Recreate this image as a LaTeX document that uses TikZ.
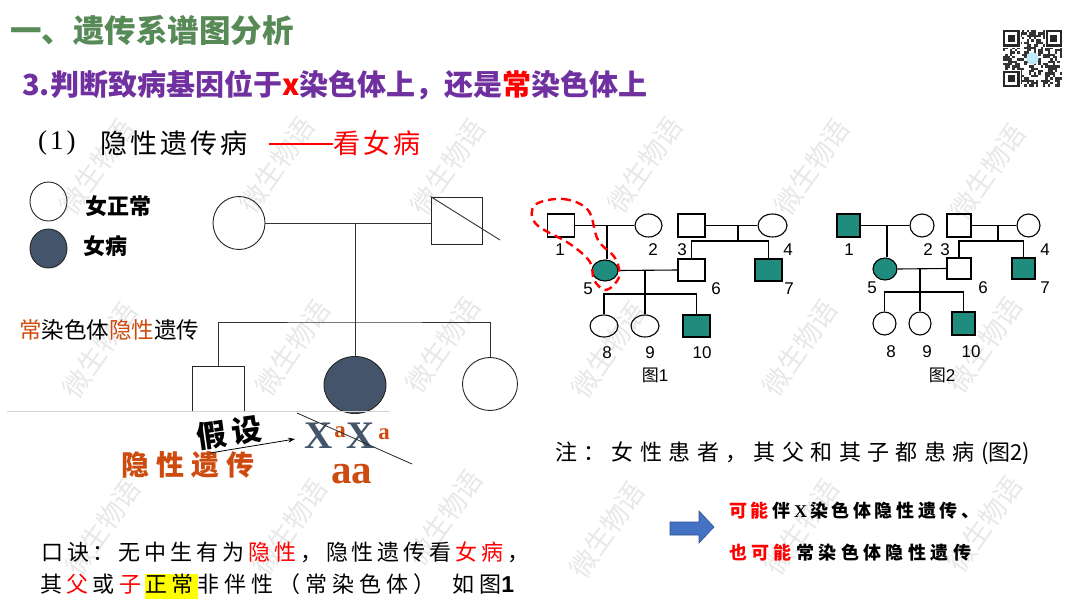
\documentclass[tikz,border=0pt]{standalone}
\usepackage{fontspec}
\setmainfont{Noto Sans CJK SC}
\newfontfamily\lat{Liberation Sans}
\newfontfamily\tnr{Liberation Serif}
\usetikzlibrary{arrows.meta,shapes.geometric}
\definecolor{titlegreen}{RGB}{88,138,88}
\definecolor{ppurple}{RGB}{112,48,160}
\definecolor{pred}{RGB}{255,0,0}
\definecolor{porange}{RGB}{205,75,15}
\definecolor{slate}{RGB}{68,84,106}
\definecolor{teal}{RGB}{31,140,125}
\definecolor{ablue}{RGB}{68,114,196}
\definecolor{ablueb}{RGB}{47,82,143}
\definecolor{hiyellow}{RGB}{255,255,0}
\definecolor{wmgray}{RGB}{232,232,232}
\newcommand\fs[1]{\fontsize{#1}{#1}\selectfont}
\makeatletter
\newcommand\LS[2]{\@tfor\lsc:=#2\do{\lsc\kern#1pt}}
\makeatother
\begin{document}
\begin{tikzpicture}[x=1pt,y=-1pt,
  txt/.style={inner sep=0pt, anchor=west},
  wm/.style={text=wmgray, rotate=55, inner sep=0pt, font=\fs{27}},
  bigsq/.style={draw=black!85, line width=0.9pt, inner sep=0pt},
  bigci/.style={draw=black!85, line width=0.9pt, ellipse, inner sep=0pt},
  pl/.style={draw=black!80, line width=0.9pt},
  fsq/.style={draw, line width=1.1pt, rectangle, inner sep=0pt},
  fci/.style={draw, line width=1.1pt, ellipse, inner sep=0pt},
  aff/.style={fill=teal},
  fl/.style={line width=1.1pt},
  lab/.style={inner sep=0pt, font=\lat\fs{17}},
]
\useasboundingbox (0,0) rectangle (1080,608);
\fill[white] (0,0) rectangle (1080,608);

% watermarks
\foreach \x/\y [count=\k] in {97/167,277/165,448/167,645/165,812/167,988/172,
                   100/350,293/348,443/345,609/350,800/348,985/345,
                   103/527,290/527,445/518,607/530,802/527,985/524}{
  \node[wm] (wm\k) at (\x,\y) {微生物语};
}

% title lines
\node[txt, text=titlegreen, font=\fs{31.5}\bfseries] (title) at (10,30) {一、遗传系谱图分析};
\node[txt, text=ppurple, font=\fs{29}\bfseries] (sub) at (22,85) {3.判断致病基因位于{\color{pred}x}染色体上，还是{\color{pred}常}染色体上};
\node[txt, font=\tnr\fs{27}] (head1a) at (38,143) {\LS{3}{(1)}};
\node[txt, font=\fs{27}] (head1b) at (100,143) {\LS{3}{隐性遗传病}};
\coordinate (dashA) at (269,144);
\coordinate (dashB) at (333,144);
\draw[pred, line width=2pt] (dashA) -- (dashB);
\node[txt, font=\fs{27}, text=pred] (head1c) at (333,143) {\LS{3}{看女病}};

% QR code
\begin{scope}[shift={(1003,30)}]
  \pgfmathsetseed{11}
  \fill[white] (0,0) rectangle (59,57);
  \foreach \i in {0,...,24}{
    \foreach \j in {0,...,23}{
      \pgfmathtruncatemacro\on{(rnd<0.5)}
      \ifnum\on=1 \fill[black!80] (\i*2.36,\j*2.36) rectangle ++(2.36,2.36);\fi
    }
  }
  \foreach \px/\py in {0/0,42.5/0,0/40.5}{
    \fill[white] (\px-1,\py-1) rectangle ++(18.5,18.5);
    \fill[black!85] (\px,\py) rectangle ++(16.5,16.5);
    \fill[white] (\px+2.36,\py+2.36) rectangle ++(11.8,11.8);
    \fill[black!85] (\px+4.72,\py+4.72) rectangle ++(7.1,7.1);
  }
  \fill[cyan!25] (29.5,28.5) circle (6);
\end{scope}

% legend
\node[bigci, minimum width=37pt, minimum height=39pt] (L1) at (48.5,201.5) {};
\node[bigci, fill=slate, minimum width=37pt, minimum height=39pt] (L2) at (48.5,248.5) {};
\node[txt, font=\fs{22}\bfseries] (L1t) at (85,206) {女正常};
\node[txt, font=\fs{22}\bfseries] (L2t) at (83,246) {女病};

% big pedigree
\node[bigci, minimum width=52pt, minimum height=53pt] (P1) at (239,223) {};
\node[bigsq, minimum width=51pt, minimum height=47pt] (P2) at (456.5,220.5) {};
\coordinate (P2x) at (500,240);
\draw[pl] (P2.north west) -- (P2x);
\draw[pl] (P1.east) -- (P1.east -| P2.west);
\coordinate (Pm) at (355,223);
\coordinate (Ps) at (355,322);
\node[bigsq, minimum width=52pt, minimum height=45pt] (C1) at (218,389) {};
\node[bigci, fill=slate, minimum width=62pt, minimum height=57pt] (C2) at (355,385) {};
\node[bigci, minimum width=55pt, minimum height=53pt] (C3) at (490,384) {};
\draw[pl] (Pm) -- (C2.north);
\draw[pl] (C1.north) |- (Ps) -| (C3.north);

% gray separator
\coordinate (g1) at (7,411);
\coordinate (g2) at (390,411);
\draw[black!18, line width=0.8pt] (g1) -- (g2);

\node[txt, font=\fs{22.5}] (auto) at (19,330) {{\color{porange}常}染色体{\color{porange}隐性}遗传};

% hypothesis
\node[inner sep=0pt, rotate=8, font=\fs{30}\bfseries] (jiashe) at (229,433) {假\kern5pt 设};
\node[txt, text=porange, font=\fs{28}\bfseries] (yxyc) at (121,465) {\LS{7}{隐性遗传}};
\node[inner sep=0pt, text=slate, font=\tnr\bfseries\fs{39}] (X1) at (319,436) {X};
\node[inner sep=0pt, text=porange, font=\tnr\bfseries\fs{23}] (a1) at (340,432) {a};
\node[inner sep=0pt, text=slate, font=\tnr\bfseries\fs{39}] (X2) at (361,436) {X};
\node[inner sep=0pt, text=porange, font=\tnr\bfseries\fs{23}] (a2) at (384,434) {a};
\node[inner sep=0pt, text=porange, font=\tnr\bfseries\fs{41}] (aa) at (351.5,474) {aa};
\coordinate (arS) at (210,453);
\coordinate (arE) at (295,439);
\draw[line width=0.8pt, -{Stealth[length=7pt,width=5pt]}] (arS) -- (arE);
\coordinate (stS) at (297,413);
\coordinate (stE) at (412,464);
\draw[line width=0.8pt, black!85] (stS) -- (stE);

% mnemonic
\node[txt, font=\fs{22}] (kj1) at (41,552) {\LS{3.9}{口诀：无中生有为}\textcolor{pred}{\LS{3.9}{隐性}}\LS{3.9}{，隐性遗传看}\textcolor{pred}{\LS{3.9}{女病}}\LS{3.9}{，}};
\node[txt, font=\fs{22}] (kj2) at (40,586) {\LS{4.3}{其}\textcolor{pred}{\LS{4.3}{父}}\LS{4.3}{或}\textcolor{pred}{\LS{4.3}{子}}{\setlength\fboxsep{0pt}\colorbox{hiyellow}{\strut\LS{4.3}{正常}}}\LS{5}{非伴性（常染色体）}\hspace{12pt}\LS{4.5}{如}图{\lat\bfseries\fs{23}1}};

% note
\node[txt, font=\fs{22}] (note) at (555,453) {\LS{6.4}{注：女性患者，其父和其子都患病}(图2)};
\path[fill=ablue, draw=ablueb, line width=0.6pt] (670,522) -- (699,522) -- (699,511) -- (714,527) -- (699,543) -- (699,535) -- (670,535) -- cycle;
\node[txt, font=\fs{18}\bfseries] (c1) at (729,511) {\textcolor{pred}{\LS{3.6}{可能}}\LS{3.6}{伴}{\tnr\bfseries X}\kern3pt\LS{3.6}{染色体隐性遗传、}};
\node[txt, font=\fs{18}\bfseries] (c2) at (729,553) {\textcolor{pred}{\LS{4.4}{也可能}}\LS{4.4}{常染色体隐性遗传}};

% ---------- Figure 1 ----------
\node[fsq, minimum width=27pt, minimum height=23pt] (f1) at (561,225.5) {};
\node[fci, minimum width=27pt, minimum height=23pt] (f2) at (648.5,225.5) {};
\node[fsq, minimum width=27pt, minimum height=23pt] (f3) at (691.5,225.5) {};
\node[fci, minimum width=29pt, minimum height=23pt] (f4) at (772.5,225.5) {};
\node[fci, aff, minimum width=26pt, minimum height=21pt] (f5) at (605,270.5) {};
\node[fsq, minimum width=27pt, minimum height=22pt] (f6) at (691.5,270) {};
\node[fsq, aff, minimum width=27pt, minimum height=22pt] (f7) at (768.5,270) {};
\node[fci, minimum width=28pt, minimum height=22pt] (f8) at (604,326) {};
\node[fci, minimum width=28pt, minimum height=22pt] (f9) at (645,326) {};
\node[fsq, aff, minimum width=27pt, minimum height=22pt] (f10) at (696.5,326) {};
\draw[fl] (f1.east) -- (f2.west);
\coordinate (m12) at (607,225.5);
\draw[fl] (m12) -- (m12 |- f5.north);
\draw[fl] (f3.east) -- (f4.west);
\coordinate (m34) at (738,225.5);
\coordinate (s34) at (738,241);
\draw[fl] (m34) -- (s34);
\draw[fl] (f6.north) |- (s34) -| (f7.north);
\draw[fl] (f5.east) -- (f6.west);
\coordinate (m56) at (645,270);
\coordinate (s56) at (645,294);
\draw[fl] (m56) -- (s56) -- (f9.north);
\draw[fl] (f8.north) |- (s56) -| (f10.north);
\node[lab] (n1) at (560,250) {1};
\node[lab] (n2) at (653,250) {2};
\node[lab] (n3) at (682,250) {3};
\node[lab] (n4) at (788,250) {4};
\node[lab] (n5) at (588,289) {5};
\node[lab] (n6) at (716,289) {6};
\node[lab] (n7) at (789,289) {7};
\node[lab] (n8) at (607,353) {8};
\node[lab] (n9) at (650,353) {9};
\node[lab] (n10) at (702,353) {10};
\node[inner sep=0pt, font=\fs{17}] (fig1) at (655,375) {图{\lat 1}};
\draw[pred, line width=2.4pt, dash pattern=on 8pt off 5pt]
  plot[smooth cycle, tension=0.6] coordinates {(535,205) (563,199) (588,210) (598,240) (615,258) (619,277) (606,290) (594,280) (590,262) (570,244) (536,224)};

% ---------- Figure 2 ----------
\node[fsq, aff, minimum width=23pt, minimum height=23pt] (g1n) at (848.5,225.5) {};
\node[fci, minimum width=24pt, minimum height=23pt] (g2n) at (922,225.5) {};
\node[fsq, minimum width=24pt, minimum height=23pt] (g3n) at (959,225.5) {};
\node[fci, minimum width=23pt, minimum height=23pt] (g4n) at (1028.5,225.5) {};
\node[fci, aff, minimum width=24pt, minimum height=22pt] (g5n) at (885,269) {};
\node[fsq, minimum width=24pt, minimum height=21pt] (g6n) at (959,268.5) {};
\node[fsq, aff, minimum width=23pt, minimum height=21pt] (g7n) at (1023.5,268.5) {};
\node[fci, minimum width=23pt, minimum height=23pt] (g8n) at (884.5,323.5) {};
\node[fci, minimum width=22pt, minimum height=23pt] (g9n) at (920,323.5) {};
\node[fsq, aff, minimum width=23pt, minimum height=23pt] (g10n) at (963.5,323.5) {};
\draw[fl] (g1n.east) -- (g2n.west);
\coordinate (k12) at (887,225.5);
\draw[fl] (k12) -- (k12 |- g5n.north);
\draw[fl] (g3n.east) -- (g4n.west);
\coordinate (k34) at (998,225.5);
\coordinate (t34) at (998,241);
\draw[fl] (k34) -- (t34);
\draw[fl] (g6n.north) |- (t34) -| (g7n.north);
\draw[fl] (g5n.east) -- (g6n.west);
\coordinate (k56) at (920,268.5);
\coordinate (t56) at (920,292);
\draw[fl] (k56) -- (t56) -- (g9n.north);
\draw[fl] (g8n.north) |- (t56) -| (g10n.north);
\node[lab] (q1) at (849,250) {1};
\node[lab] (q2) at (928,250) {2};
\node[lab] (q3) at (945,250) {3};
\node[lab] (q4) at (1045,250) {4};
\node[lab] (q5) at (872,288) {5};
\node[lab] (q6) at (983,288) {6};
\node[lab] (q7) at (1045,288) {7};
\node[lab] (q8) at (891,352) {8};
\node[lab] (q9) at (927,352) {9};
\node[lab] (q10) at (971,352) {10};
\node[inner sep=0pt, font=\fs{17}] (fig2) at (942,375) {图{\lat 2}};
\end{tikzpicture}
\end{document}
